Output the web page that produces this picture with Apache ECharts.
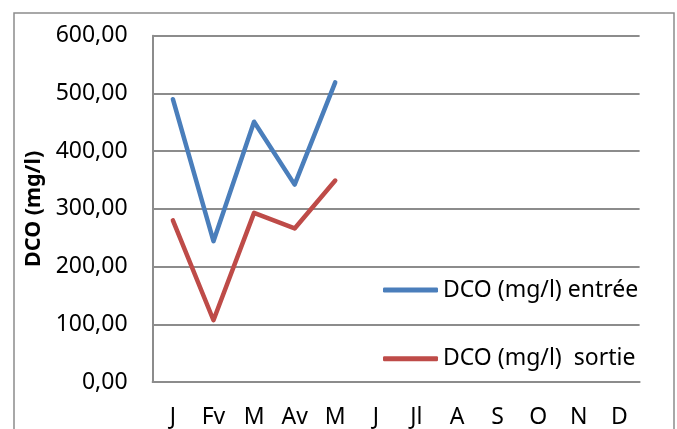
<!DOCTYPE html>
<html><head><meta charset="utf-8">
<script src="https://cdn.jsdelivr.net/npm/echarts@6/dist/echarts.min.js"></script>
<style>html,body{margin:0;padding:0;background:#fff}#c{width:677px;height:429px}</style>
</head><body><div id="c"></div>
<script>
const months = ['J','Fv','M','Av','M','J','Jl','A','S','O','N','D'];
const entree = [490,244,451,342,519,null,null,null,null,null,null,null];
const sortie = [280,107,293,266,349,null,null,null,null,null,null,null];
const seriesNames = ['DCO (mg/l) entrée','DCO (mg/l)  sortie'];
const yAxisTitle = 'DCO (mg/l)';
const yMin = 0, yMax = 600, yStep = 100;

const FONT = '"Noto Sans", sans-serif';
const chart = echarts.init(document.getElementById('c'), null, {renderer:'canvas'});
chart.setOption({
  animation:false,
  backgroundColor:'#fff',
  graphic:[{type:'rect', shape:{x:14,y:13,width:660,height:440}, style:{fill:'none',stroke:'#8c8c8c',lineWidth:1.5}, silent:true, z:-1}],
  grid:{left:152.6, right:37.4, top:35.7, bottom:46},
  legend:{
    orient:'vertical', left:378, top:273, padding:5, itemWidth:55, itemHeight:5, itemGap:44.7,
    icon:'roundRect',
    textStyle:{fontFamily:FONT, fontSize:23, color:'#000', lineHeight:24},
    data:seriesNames
  },
  xAxis:{
    type:'category', data:months, boundaryGap:true,
    axisLine:{lineStyle:{color:'#8c8c8c', width:2}},
    axisTick:{show:false},
    axisLabel:{fontFamily:FONT, fontSize:23, color:'#000', margin:24, interval:0}
  },
  yAxis:{
    type:'value', min:yMin, max:yMax, interval:yStep,
    name:yAxisTitle, nameLocation:'middle', nameGap:104, nameRotate:90,
    nameTextStyle:{fontFamily:FONT, fontSize:21.5, fontWeight:'bold', color:'#000'},
    axisLine:{show:true, lineStyle:{color:'#8c8c8c', width:2}},
    axisTick:{show:false},
    splitLine:{lineStyle:{color:'#8c8c8c', width:2}},
    axisLabel:{fontFamily:FONT, fontSize:23, color:'#000', margin:25,
      formatter:v=>v.toFixed(2).replace('.',',')}
  },
  series:[
    {name:seriesNames[0], type:'line', data:entree, symbol:'none', lineStyle:{color:'#4a7ebb', width:4.5, cap:'round', join:'round'}, itemStyle:{color:'#4a7ebb'}},
    {name:seriesNames[1], type:'line', data:sortie, symbol:'none', lineStyle:{color:'#be4b48', width:4.5, cap:'round', join:'round'}, itemStyle:{color:'#be4b48'}}
  ]
});
</script></body></html>
